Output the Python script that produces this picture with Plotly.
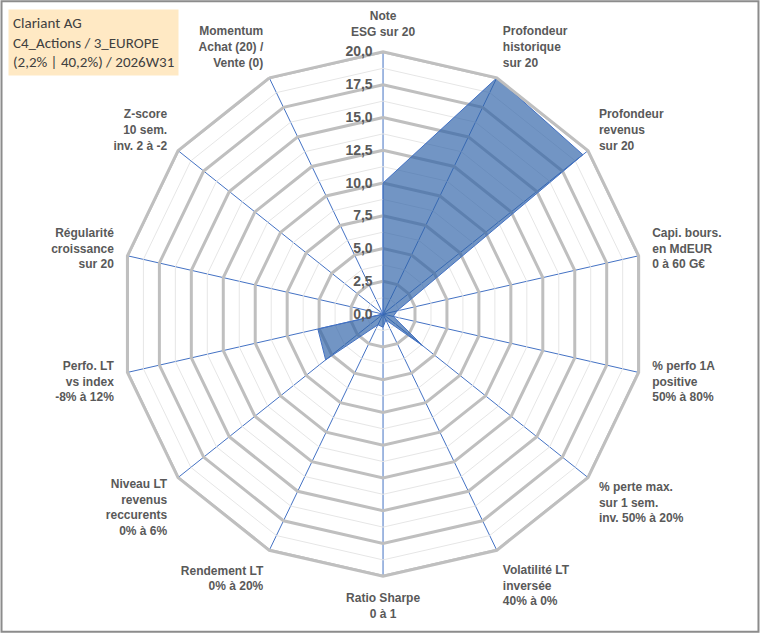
import plotly.graph_objects as go

# radar axes, clockwise from the top
categories = [
    "Note<br>ESG sur 20",
    "Profondeur<br>historique<br>sur 20",
    "Profondeur<br>revenus<br>sur 20",
    "Capi. bours.<br>en MdEUR<br>0 à 60 G€",
    "% perfo 1A<br>positive<br>50% à 80%",
    "% perte max.<br>sur 1 sem.<br>inv. 50% à 20%",
    "Volatilité LT<br>inversée<br>40% à 0%",
    "Ratio Sharpe<br>0 à 1",
    "Rendement LT<br>0% à 20%",
    "Niveau LT<br>revenus<br>reccurents<br>0% à 6%",
    "Perfo. LT<br>vs index<br>-8% à 12%",
    "Régularité<br>croissance<br>sur 20",
    "Z-score<br>10 sem.<br>inv. 2 à -2",
    "Momentum<br>Achat (20) /<br>Vente (0)",
]
scores = [10.0, 20.0, 19.5, 1.1, 0.8, 3.9, 0.5, 1.0, 0.9, 5.6, 5.1, 0.0, 0.0, 0.0]

major_ticks = [0, 2.5, 5, 7.5, 10, 12.5, 15, 17.5, 20]
minor_ticks = [1.25, 3.75, 6.25, 8.75, 11.25, 13.75, 16.25, 18.75]

title_lines = ["Clariant AG", "C4_Actions / 3_EUROPE", "(2,2% | 40,2%) / 2026W31"]

grey_txt = "#595959"
font_fam = "Liberation Sans, Arial, sans-serif"

fig = go.Figure()

closed = categories + [categories[0]]

# light polygons between the labelled levels
for t in minor_ticks:
    fig.add_trace(go.Scatterpolar(
        r=[t] * len(closed), theta=closed,
        mode="lines", line=dict(color="#E6E6E6", width=1),
        hoverinfo="skip", showlegend=False,
    ))

# heavy grey polygons at every 2.5
for t in major_ticks[1:]:
    fig.add_trace(go.Scatterpolar(
        r=[t] * len(closed), theta=closed,
        mode="lines", line=dict(color="#BFBFBF", width=3),
        hoverinfo="skip", showlegend=False,
    ))

fig.add_trace(go.Scatterpolar(
    r=scores + [scores[0]], theta=closed,
    mode="lines", fill="toself",
    fillcolor="rgba(47,99,168,0.68)",
    line=dict(color="#4472C4", width=1),
    showlegend=False,
))

tick_text = [f"{t:.1f}".replace(".", ",") + "\u00a0\u00a0" for t in major_ticks]

fig.update_layout(
    width=760, height=633,
    margin=dict(l=0, r=0, t=0, b=0),
    paper_bgcolor="white",
    font=dict(family=font_fam, color=grey_txt),
    polar=dict(
        domain=dict(x=[0.159, 0.849], y=[0.0896, 0.918]),
        bgcolor="white",
        gridshape="linear",
        angularaxis=dict(
            rotation=90, direction="clockwise",
            gridcolor="#4472C4", gridwidth=1,
            showline=True, linecolor="#BFBFBF", linewidth=3,
            ticks="outside", ticklen=10, tickcolor="rgba(0,0,0,0)",
            tickfont=dict(size=12, weight="bold", color=grey_txt),
            layer="above traces",
        ),
        radialaxis=dict(
            range=[0, 20],
            tickvals=major_ticks, ticktext=tick_text,
            showgrid=False,
            showline=False, ticks="",
            angle=90, side="counterclockwise", tickangle=90,
            tickfont=dict(size=14, weight="bold", color=grey_txt),
            layer="above traces",
        ),
    ),
    annotations=[dict(
        x=0.011, y=0.986, xref="paper", yref="paper",
        xanchor="left", yanchor="top", align="left",
        text="<br>".join(title_lines), showarrow=False,
        bgcolor="#FFE9C4", borderpad=4,
        font=dict(size=15, color="#404040", family="Calibri, Carlito, Liberation Sans, sans-serif"),
    )],
    shapes=[dict(
        type="rect", xref="paper", yref="paper",
        x0=0.002, y0=0.002, x1=0.998, y1=0.998,
        line=dict(color="#8C8C8C", width=2),
    )],
)

fig.write_html("out.html", config={"displayModeBar": False},
               post_script="document.body.style.margin='0';")
